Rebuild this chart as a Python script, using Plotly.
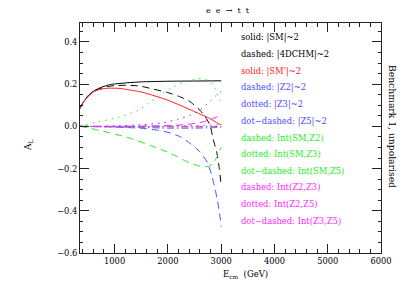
import plotly.graph_objects as go

# ---- data ----
E_sm = [350, 400, 450, 500, 550, 600, 700, 800, 900, 1000, 1250, 1500, 2000, 2500, 3000]
A_sm = [0.085, 0.11, 0.128, 0.145, 0.157, 0.167, 0.18, 0.19, 0.197, 0.201, 0.207, 0.211, 0.214, 0.215, 0.216]

E_4d = [350, 400, 450, 500, 600, 700, 800, 900, 1000, 1250, 1500, 1700, 2000, 2200, 2400, 2600, 2700, 2790, 2850, 2920, 2965, 3000]
A_4d = [0.085, 0.11, 0.127, 0.143, 0.163, 0.176, 0.185, 0.19, 0.193, 0.195, 0.19, 0.178, 0.16, 0.143, 0.12, 0.077, 0.046, 0.006, -0.06, -0.127, -0.2, -0.28]

E_smp = [350, 400, 450, 500, 600, 700, 800, 900, 1100, 1250, 1500, 1750, 2000, 2250, 2500, 2750, 3000]
A_smp = [0.085, 0.11, 0.127, 0.142, 0.163, 0.174, 0.179, 0.181, 0.18, 0.174, 0.163, 0.145, 0.124, 0.098, 0.07, 0.042, 0.006]

E_z2 = [350, 800, 1200, 1500, 1800, 2000, 2230, 2420, 2600, 2750, 2830, 2890, 2920, 2970, 3000]
A_z2 = [0.0, -0.002, -0.005, -0.009, -0.018, -0.028, -0.049, -0.081, -0.12, -0.175, -0.24, -0.30, -0.34, -0.41, -0.475]

E_z3 = [350, 1000, 1500, 1900, 2200, 2400, 2600, 2800, 2900, 3000]
A_z3 = [0.0, 0.002, 0.008, 0.017, 0.035, 0.05, 0.077, 0.122, 0.145, 0.165]

E_z5 = [350, 1000, 1500, 2000, 2500, 3000]
A_z5 = [0.0, -0.002, -0.005, -0.008, -0.008, -0.005]

E_i_sm_z2 = [350, 500, 700, 1000, 1300, 1700, 2050, 2400, 2600, 2750, 2850, 2930, 3000]
A_i_sm_z2 = [0.0, -0.007, -0.018, -0.036, -0.057, -0.093, -0.128, -0.172, -0.188, -0.19, -0.175, -0.14, -0.1]

E_i_sm_z3 = [350, 700, 1100, 1450, 1670, 1800, 2050, 2300, 2550, 2700, 2850, 3000]
A_i_sm_z3 = [0.0, 0.022, 0.045, 0.077, 0.115, 0.138, 0.18, 0.211, 0.226, 0.224, 0.196, 0.11]

E_i_sm_z5 = [350, 1000, 2000, 3000]
A_i_sm_z5 = [0.0, -0.002, -0.003, -0.003]

E_i_z2_z3 = [350, 1500, 2000, 2300, 2600, 2800, 3000]
A_i_z2_z3 = [0.0, 0.001, 0.004, 0.008, 0.018, 0.032, 0.055]

E_i_z2_z5 = [350, 1500, 2000, 2500, 3000]
A_i_z2_z5 = [0.0, 0.001, 0.002, 0.004, 0.008]

E_i_z3_z5 = [350, 1500, 3000]
A_i_z3_z5 = [0.0, 0.0, 0.0]

labels = ["solid: |SM|~2", "dashed: |4DCHM|~2", "solid: |SM'|~2",
          "dashed: |Z2|~2", "dotted: |Z3|~2", "dot\u2212dashed: |Z5|~2",
          "dashed: Int(SM,Z2)", "dotted: Int(SM,Z3)", "dot\u2212dashed: Int(SM,Z5)",
          "dashed: Int(Z2,Z3)", "dotted: Int(Z2,Z5)", "dot\u2212dashed: Int(Z3,Z5)"]

BLACK = "#000000"
RED = "#ff2020"
BLUE = "#4a4aff"
GREEN = "#22ee22"
MAG = "#ff22ff"

DASH = "7px,5px"
DOT = "1.5px,5px"
DASHDOT = "7px,3px,1.5px,3px"

series = [
    (E_sm, A_sm, BLACK, "solid"),
    (E_4d, A_4d, BLACK, DASH),
    (E_smp, A_smp, RED, "solid"),
    (E_z2, A_z2, BLUE, DASH),
    (E_z3, A_z3, BLUE, DOT),
    (E_z5, A_z5, BLUE, DASHDOT),
    (E_i_sm_z2, A_i_sm_z2, GREEN, DASH),
    (E_i_sm_z3, A_i_sm_z3, GREEN, DOT),
    (E_i_sm_z5, A_i_sm_z5, GREEN, DASHDOT),
    (E_i_z2_z3, A_i_z2_z3, MAG, DASH),
    (E_i_z2_z5, A_i_z2_z5, MAG, DOT),
    (E_i_z3_z5, A_i_z3_z5, MAG, DASHDOT),
]
label_colors = [BLACK, BLACK, RED, BLUE, BLUE, BLUE, GREEN, GREEN, GREEN, MAG, MAG, MAG]

fig = go.Figure()
for (x, y, c, d), name in zip(series, labels):
    fig.add_trace(go.Scatter(x=x, y=y, mode="lines", name=name,
                             line=dict(color=c, dash=d, width=1, shape="spline", smoothing=0.6),
                             showlegend=False, hoverinfo="skip"))

W, H = 415, 289
L, R, T, B = 80, 381, 23, 253
pw, ph = R - L, B - T

def px(xp):
    return (xp - L) / pw

def py(yp):
    return (B - yp) / ph

FONT = "DejaVu Serif"
ann = []
for i, (t, c) in enumerate(zip(labels, label_colors)):
    ann.append(dict(x=px(239), y=py(38 + i * 16.6), xref="paper", yref="paper",
                    text=t, showarrow=False, xanchor="left", yanchor="middle",
                    font=dict(family=FONT, size=8.4, color=c)))
ann.append(dict(x=px(228), y=py(10), xref="paper", yref="paper", text="e  e  \u2192  t  t",
                showarrow=False, xanchor="center", yanchor="middle",
                font=dict(family=FONT, size=8, color="black")))
ann.append(dict(x=px(392), y=py(126), xref="paper", yref="paper", text="Benchmark 1, unpolarised",
                showarrow=False, textangle=90, xanchor="center", yanchor="middle",
                font=dict(family=FONT, size=9.2, color="black")))
ann.append(dict(x=px(28), y=py(145), xref="paper", yref="paper", text="A<sub>L</sub>",
                showarrow=False, textangle=-90, xanchor="center", yanchor="middle",
                font=dict(family=FONT, size=9, color="black")))
ann.append(dict(x=px(245), y=py(274), xref="paper", yref="paper", text="E<sub>cm</sub>  (GeV)",
                showarrow=False, xanchor="center", yanchor="middle",
                font=dict(family=FONT, size=8.5, color="black")))

axis_common = dict(showline=True, linecolor="#222", linewidth=1, mirror="ticks",
                   ticks="inside", tickcolor="#222", showgrid=False, zeroline=False,
                   tickfont=dict(family=FONT, size=8.3, color="black"))

fig.update_layout(
    width=W, height=H,
    margin=dict(l=L, r=W - R, t=T, b=H - B),
    paper_bgcolor="white", plot_bgcolor="white",
    annotations=ann,
    xaxis=dict(range=[350, 6000], tickvals=[1000, 2000, 3000, 4000, 5000, 6000],
               ticklen=9, minor=dict(dtick=200, tick0=0, ticks="inside", ticklen=4, tickcolor="#222"),
               **axis_common),
    yaxis=dict(range=[-0.6, 0.49], tickvals=[-0.6, -0.4, -0.2, 0.0, 0.2, 0.4], tickformat=".1f",
               ticklen=9, minor=dict(dtick=0.05, tick0=0, ticks="inside", ticklen=3, tickcolor="#222"),
               **axis_common),
)

fig.write_html("out.html", config={"displayModeBar": False, "staticPlot": True},
               post_script="document.body.style.margin='0px';document.body.style.padding='0px';")
